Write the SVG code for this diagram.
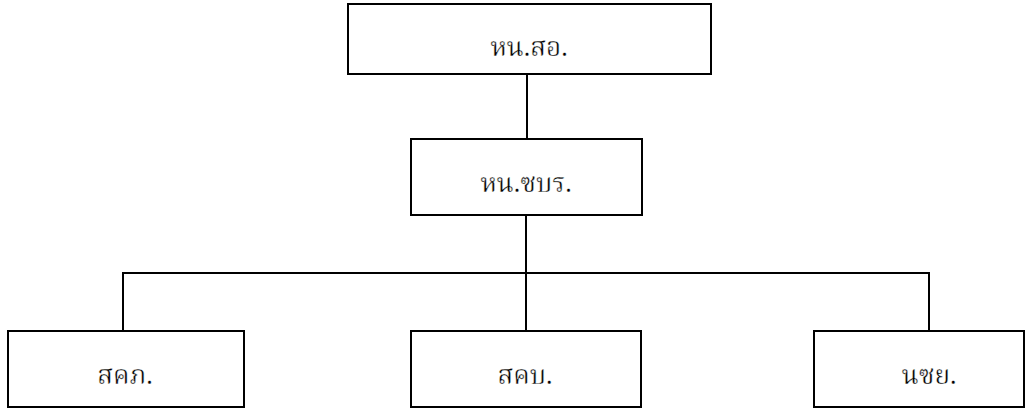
<svg xmlns="http://www.w3.org/2000/svg" width="1034" height="408" viewBox="0 0 1034 408">
<style>
.box{fill:#fff;stroke:#000;stroke-width:2}
.lbl{font-family:"Noto Serif Thai","DejaVu Sans",sans-serif;font-size:26px;fill:#000;text-anchor:middle;stroke:#fff;stroke-width:0.35px}
.ln{stroke:#000;stroke-width:2;fill:none}
</style>
<rect width="1034" height="408" fill="#fff"/>
<g id="connectors">
<line class="ln" x1="527" y1="74" x2="527" y2="139"/>
<line class="ln" x1="526" y1="215" x2="526" y2="331"/>
<polyline class="ln" points="123,331 123,273 929,273 929,331"/>
</g>
<g id="n1"><rect class="box" x="348" y="4" width="363" height="70"/><text class="lbl" x="529" y="56">หน.สอ.</text></g>
<g id="n2"><rect class="box" x="411" y="139" width="231" height="76"/><text class="lbl" x="526" y="192">หน.ซบร.</text></g>
<g id="n3"><rect class="box" x="8" y="331" width="236" height="76"/><text class="lbl" x="125" y="384">สคภ.</text></g>
<g id="n4"><rect class="box" x="411" y="331" width="230" height="76"/><text class="lbl" x="525" y="384">สคบ.</text></g>
<g id="n5"><rect class="box" x="814" y="331" width="210" height="76"/><text class="lbl" x="929" y="384">นซย.</text></g>
</svg>
